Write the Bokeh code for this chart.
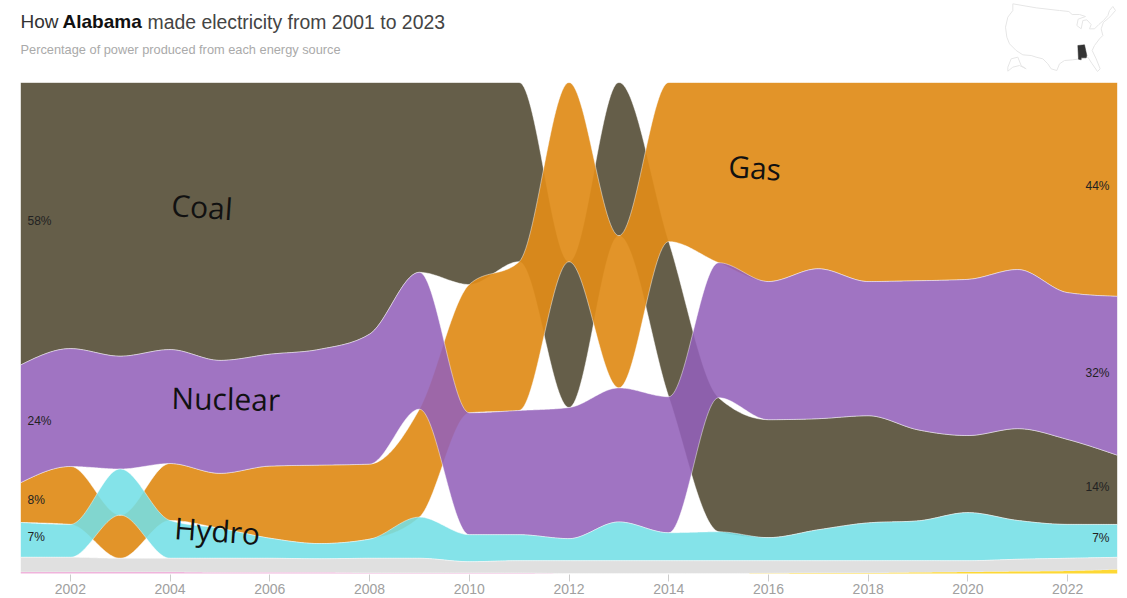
import numpy as np
from bokeh.plotting import figure
from bokeh.layouts import column
from bokeh.models import Range1d, FixedTicker
from bokeh.core.properties import value
from bokeh.embed import file_html
from bokeh.resources import INLINE

years = list(range(2001, 2024))
coal = [57.6,54.2,55.8,54.4,56.6,55.4,54.4,51.3,38.7,41.1,36.5,29.7,31.2,31.6,27.3,24.0,22.6,21.8,18.5,15.7,18.7,17.3,14.1]
nuclear = [24.0,24.0,23.0,23.2,23.0,22.8,23.6,26.5,27.9,24.8,25.3,26.7,27.3,27.7,27.5,28.1,30.5,27.3,30.3,31.8,32.4,29.9,32.4]
gas = [8.1,11.8,8.8,11.6,11.2,14.7,16.0,15.3,22.0,26.1,30.3,36.5,31.0,32.4,36.7,40.5,37.9,40.5,40.3,40.1,38.1,42.8,43.6]
hydro = [7.1,6.7,9.4,7.7,6.1,4.1,3.1,3.9,8.4,5.5,5.3,4.5,7.9,5.7,5.9,4.7,6.3,7.7,8.1,9.8,7.9,6.9,6.7]
other = [3.0,3.0,2.8,2.8,2.9,2.9,2.8,3.0,3.0,2.3,2.5,2.6,2.6,2.6,2.6,2.55,2.5,2.5,2.4,2.3,2.5,2.6,2.5]
oil = [0.3,0.3,0.3,0.3,0.2,0.2,0.2,0.1,0.1,0.1,0.1,0,0,0,0,0,0,0,0,0,0,0,0]
solar = [0,0,0,0,0,0,0,0,0,0,0,0,0,0,0,0.05,0.1,0.1,0.2,0.3,0.4,0.5,0.8]
tick_years = list(range(2002, 2024, 2))

names = ["coal", "gas", "nuclear", "hydro", "other", "oil", "solar"]
table = np.array([coal, gas, nuclear, hydro, other, oil, solar], dtype=float)
table = table / table.sum(axis=0) * 100
colors = {"coal": ("#59523b", .93), "gas": ("#e08c19", .93), "nuclear": ("#9361ba", .88),
          "hydro": ("#73dfe6", .88), "other": ("#e0e0e0", 1), "oil": ("#f0b4dc", 1), "solar": ("#fdd835", 1)}

# stack each year by rank: the largest share on top
tops = np.zeros_like(table)
bots = np.zeros_like(table)
for j in range(table.shape[1]):
    level = 100.0
    for i in np.argsort(-table[:, j], kind="stable"):
        tops[i, j] = level
        level -= table[i, j]
        bots[i, j] = level


def monotone(xs, ys, n=30):
    """Same curve as d3.curveMonotoneX."""
    xs = np.asarray(xs, float); ys = np.asarray(ys, float)
    h = np.diff(xs); s = np.diff(ys) / h
    m = np.zeros_like(ys)
    for k in range(1, len(ys) - 1):
        p = (s[k-1] * h[k] + s[k] * h[k-1]) / (h[k-1] + h[k])
        m[k] = (np.sign(s[k-1]) + np.sign(s[k])) * min(abs(s[k-1]), abs(s[k]), .5 * abs(p))
    m[0] = (3 * s[0] - m[1]) / 2
    m[-1] = (3 * s[-1] - m[-2]) / 2
    out_x, out_y = [], []
    for k in range(len(h)):
        t = np.linspace(0, 1, n, endpoint=False)
        a = 2*t**3 - 3*t**2 + 1; b = t**3 - 2*t**2 + t
        c = -2*t**3 + 3*t**2; d = t**3 - t**2
        out_x.extend(xs[k] + t * h[k])
        out_y.extend(a*ys[k] + b*h[k]*m[k] + c*ys[k+1] + d*h[k]*m[k+1])
    out_x.append(xs[-1]); out_y.append(ys[-1])
    return np.array(out_x), np.array(out_y)


YEAR_PX = 1097 / 22
PCT_PX = 4.91
px_year = lambda px: 2001 + (px - 21) / YEAR_PX
py_pct = lambda py: (574 - py) / PCT_PX

main = figure(width=1127, height=515, output_backend="svg", toolbar_location=None,
              x_range=Range1d(2001, 2023), y_range=Range1d(-1 / PCT_PX, 100),
              min_border_left=20, min_border_right=10, min_border_top=0, min_border_bottom=23,
              outline_line_color=None, background_fill_color="white", border_fill_color=None)
main.grid.visible = False
main.yaxis.visible = False
ax = main.xaxis[0]
ax.ticker = FixedTicker(ticks=tick_years)
ax.axis_line_color = None
ax.major_tick_in = 0
ax.major_tick_out = 7
ax.minor_tick_line_color = None
ax.major_tick_line_color = "#cccccc"
ax.major_label_standoff = 2
ax.major_label_text_color = "#a0a0a0"
ax.major_label_text_font = "Liberation Sans"
ax.major_label_text_font_size = "14px"

for i, name in enumerate(names):
    xt, yt = monotone(years, tops[i])
    xb, yb = monotone(years, bots[i])
    col, a = colors[name]
    edge = "#ffffff" if i < 5 else col
    main.patch(np.r_[xt, xb[::-1]], np.r_[yt, yb[::-1]], fill_color=col, fill_alpha=a,
               line_color=edge, line_alpha=.45 if i < 5 else 0, line_width=1)

# value labels at both edges, centred on their band
for j, anchor, xpos in [(0, "left", px_year(28)), (-1, "right", px_year(1110))]:
    for i in range(4):
        main.text([xpos], [(tops[i, j] + bots[i, j]) / 2], text=[f"{table[i, j]:.0f}%"], text_align=anchor,
                  text_baseline="middle", text_font=value("Liberation Sans"), text_font_size="12px",
                  text_color="#222222", y_offset=-3)

# hand-drawn style series names
for label, px, py, ang in [("Coal", 172, 205, -4), ("Gas", 729, 166, -4), ("Nuclear", 172, 398, -1), ("Hydro", 175, 528, -4)]:
    main.text([px_year(px)], [py_pct(py)], text=[label], angle=ang, angle_units="deg", text_align="left",
              text_baseline="middle", text_font=value("Open Sans"), text_font_size="30px", text_color="#111111")

# header: title, subtitle, locator map (pixel coordinates of the page)
head = figure(width=1127, height=82, output_backend="svg", toolbar_location=None,
              x_range=Range1d(21, 1118), y_range=Range1d(82, 0),
              min_border_left=20, min_border_right=10, min_border_top=0, min_border_bottom=0,
              outline_line_color=None, border_fill_color=None)
head.axis.visible = False
head.grid.visible = False
for txt, px, size, font_style, col in [("How ", 21, "19px", "normal", "#333333"), ("Alabama", 63, "19px", "bold", "#111111"),
                                       ("made electricity from 2001 to 2023", 148, "19.4px", "normal", "#444444")]:
    head.text([px], [21], text=[txt], text_baseline="middle", text_font=value("Liberation Sans"),
              text_font_size=size, text_font_style=font_style, text_color=col)
head.text([21], [49], text=["Percentage of power produced from each energy source"], text_baseline="middle",
          text_font=value("Liberation Sans"), text_font_size="12.8px", text_color="#aaaaaa")

usa_x = [100,170,240,268,278,300,318,296,292,305,310,322,335,330,345,358,372,385,390,400,408,395,385,372,365,370,360,345,338,350,362,354,338,325,315,300,280,255,240,232,215,205,190,170,155,130,110,90,82,78,85,100]
usa_y = [10,22,30,33,42,42,48,56,75,85,60,58,72,85,85,72,60,45,30,18,30,45,55,65,85,105,115,135,150,175,205,213,190,170,170,175,178,180,190,210,205,190,175,170,165,163,150,130,110,80,50,30]
ak_x = [85,95,115,125,140,120,100,85]
ak_y = [200,175,170,195,205,195,200,212]
al_x = [295,315,322,320,305,305,297,295]
al_y = [135,133,165,172,172,178,176,135]
to_x = lambda v: [980 + q / 3 for q in v]
to_y = lambda v: [q / 3 for q in v]
head.patch(to_x(usa_x), to_y(usa_y), fill_color=None, line_color="#e6e6e6", line_width=1)
head.patch(to_x(ak_x), to_y(ak_y), fill_color=None, line_color="#e6e6e6", line_width=1)
head.patch(to_x(al_x), to_y(al_y), fill_color="#333333", line_color="#333333", line_width=.5)

page = column(head, main, spacing=0)
html = file_html(page, INLINE)
open("out.html", "w").write(html)
